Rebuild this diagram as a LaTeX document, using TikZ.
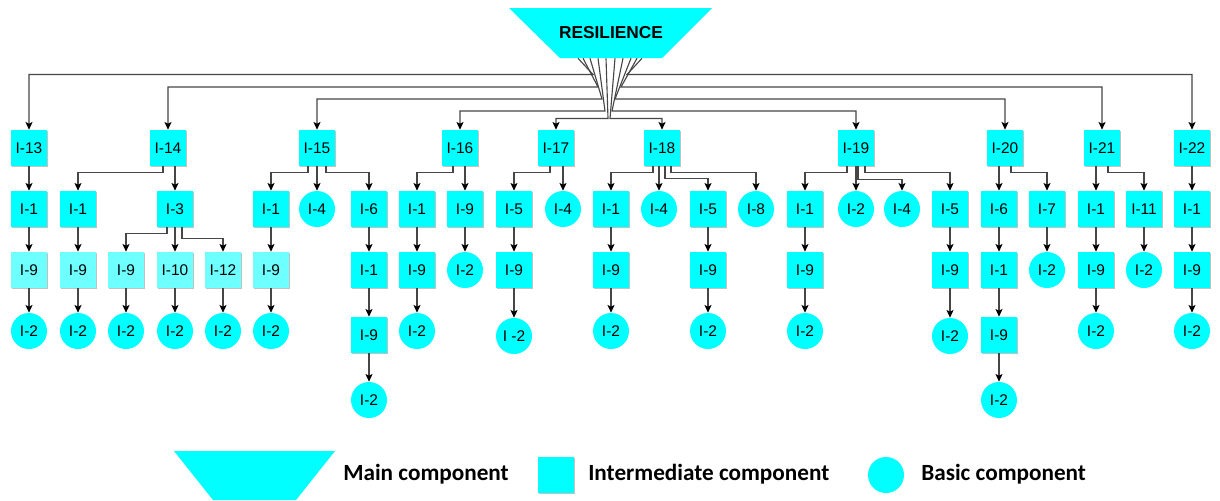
\documentclass[tikz,border=0pt]{standalone}
\usepackage{fontspec}
\setmainfont{Liberation Sans}
\newfontfamily\legendfont{Carlito}
\usetikzlibrary{arrows.meta,shadows}

\definecolor{compfill}{RGB}{0,255,255}
\definecolor{compfilllight}{RGB}{110,255,255}
\definecolor{linkgray}{RGB}{70,70,70}

\tikzset{
    inter/.style={rectangle,fill=compfill,minimum size=0.9cm,inner sep=0,
        drop shadow={shadow xshift=0.5pt,shadow yshift=-0.5pt,fill=black!40,opacity=0.6},
        font=\fontsize{11}{13}\selectfont},
    interlight/.style={inter,fill=compfilllight},
    basic/.style={circle,fill=compfill,minimum size=0.9cm,inner sep=0,
        font=\fontsize{11}{13}\selectfont},
    link/.style={draw=linkgray,line width=0.8pt,
        -{Stealth[length=5.5pt,width=5pt,inset=1.2pt,color=black]}},
    legend/.style={inner sep=0,font=\legendfont\bfseries\fontsize{16.5}{18}\selectfont}
}

\begin{document}
\begin{tikzpicture}[x=0.025cm,y=-0.025cm]
    \useasboundingbox (0,0) rectangle (1220,500);

    % main component
    \fill[compfill](509,8)--(712,8)--(662,58)--(560,58)--cycle;
    \node[minimum width=2.55cm,minimum height=1.25cm,inner sep=0,
        font=\bfseries\fontsize{12.3}{14}\selectfont](res) at (611,33){RESILIENCE};

    % first level
    \node[inter](i13) at (29,148){I-13};
    \node[inter](i14) at (168,148){I-14};
    \node[inter](i15) at (317,148){I-15};
    \node[inter](i16) at (460,148){I-16};
    \node[inter](i17) at (556,148){I-17};
    \node[inter](i18) at (662,148){I-18};
    \node[inter](i19) at (856,148){I-19};
    \node[inter](i20) at (1005,148){I-20};
    \node[inter](i21) at (1102,148){I-21};
    \node[inter](i22) at (1192,148){I-22};

    \draw[link](res.south)++(-33,0)--(593,74.5)-|(i13.north);
    \draw[link](res.south)++(-28,0)--(598,87)-|(i14.north);
    \draw[link](res.south)++(-21,0)--(602,99)-|(i15.north);
    \draw[link](res.south)++(-13,0)--(605,111)-|(i16.north);
    \draw[link](res.south)++(-5,0)--(608,118.5)-|(i17.north);
    \draw[link](res.south)++(4,0)--(610,118.5)-|(i18.north);
    \draw[link](res.south)++(12,0)--(612,111)-|(i19.north);
    \draw[link](res.south)++(20,0)--(615,99)-|(i20.north);
    \draw[link](res.south)++(26,0)--(621,87)-|(i21.north);
    \draw[link](res.south)++(31,0)--(627,74.5)-|(i22.north);

    % I-13
    \node[inter](i13a) at (29,209){I-1};
    \node[interlight](i13b) at (29,270){I-9};
    \node[basic](i13c) at (29,331){I-2};
    \draw[link](i13)--(i13a);
    \draw[link](i13a)--(i13b);
    \draw[link](i13b)--(i13c);

    % I-14
    \node[inter](i14a) at (78,209){I-1};
    \node[interlight](i14b) at (78,270){I-9};
    \node[basic](i14c) at (78,331){I-2};
    \node[inter](i14d) at (175,209){I-3};
    \node[interlight](i14e) at (126,270){I-9};
    \node[basic](i14f) at (126,331){I-2};
    \node[interlight](i14g) at (175,270){I-10};
    \node[basic](i14h) at (175,331){I-2};
    \node[interlight](i14i) at (223,270){I-12};
    \node[basic](i14j) at (223,331){I-2};
    \draw[link](i14.south)++(-5,0)--++(0,6)-|(i14a.north);
    \draw[link](i14.south-|i14d)--(i14d.north);
    \draw[link](i14a)--(i14b);
    \draw[link](i14b)--(i14c);
    \draw[link](i14d.south)++(-8,0)--++(0,6)-|(i14e.north);
    \draw[link](i14d)--(i14g);
    \draw[link](i14d.south)++(7,0)--++(0,11)-|(i14i.north);
    \draw[link](i14e)--(i14f);
    \draw[link](i14g)--(i14h);
    \draw[link](i14i)--(i14j);

    % I-15
    \node[inter](i15a) at (271,209){I-1};
    \node[interlight](i15b) at (271,270){I-9};
    \node[basic](i15c) at (271,331){I-2};
    \node[basic](i15d) at (317,209){I-4};
    \node[inter](i15e) at (369,209){I-6};
    \node[inter](i15f) at (369,270){I-1};
    \node[inter](i15g) at (369,335){I-9};
    \node[basic](i15h) at (369,400){I-2};
    \draw[link](i15.south)++(-9,0)--++(0,6)-|(i15a.north);
    \draw[link](i15)--(i15d);
    \draw[link](i15.south)++(9,0)--++(0,6)-|(i15e.north);
    \draw[link](i15a)--(i15b);
    \draw[link](i15b)--(i15c);
    \draw[link](i15e)--(i15f);
    \draw[link](i15f)--(i15g);
    \draw[link](i15g)--(i15h);

    % I-16
    \node[inter](i16a) at (417,209){I-1};
    \node[inter](i16b) at (417,270){I-9};
    \node[basic](i16c) at (417,331){I-2};
    \node[inter](i16d) at (465,209){I-9};
    \node[basic](i16e) at (465,270){I-2};
    \draw[link](i16.south)++(-7,0)--++(0,6)-|(i16a.north);
    \draw[link](i16.south-|i16d)--(i16d.north);
    \draw[link](i16a)--(i16b);
    \draw[link](i16b)--(i16c);
    \draw[link](i16d)--(i16e);

    % I-17
    \node[inter](i17a) at (514,209){I-5};
    \node[inter](i17b) at (514,270){I-9};
    \node[basic](i17c) at (514,336){I -2};
    \node[basic](i17d) at (563,209){I-4};
    \draw[link](i17.south)++(-6,0)--++(0,6)-|(i17a.north);
    \draw[link](i17.south-|i17d)--(i17d.north);
    \draw[link](i17a)--(i17b);
    \draw[link](i17b)--(i17c);

    % I-18
    \node[inter](i18a) at (611,209){I-1};
    \node[inter](i18b) at (611,270){I-9};
    \node[basic](i18c) at (611,331){I-2};
    \node[basic](i18d) at (659,209){I-4};
    \node[inter](i18e) at (708,209){I-5};
    \node[inter](i18f) at (708,270){I-9};
    \node[basic](i18g) at (708,331){I-2};
    \node[basic](i18h) at (756,209){I-8};
    \draw[link](i18.south)++(-9,0)--++(0,6)-|(i18a.north);
    \draw[link](i18.south-|i18d)--(i18d.north);
    \draw[link](i18.south)++(3,0)--++(0,12)-|(i18e.north);
    \draw[link](i18.south)++(9,0)--++(0,6)-|(i18h.north);
    \draw[link](i18a)--(i18b);
    \draw[link](i18b)--(i18c);
    \draw[link](i18e)--(i18f);
    \draw[link](i18f)--(i18g);

    % I-19
    \node[inter](i19a) at (805,209){I-1};
    \node[inter](i19b) at (805,270){I-9};
    \node[basic](i19c) at (805,331){I-2};
    \node[basic](i19d) at (856,209){I-2};
    \node[basic](i19e) at (902,209){I-4};
    \node[inter](i19f) at (950,209){I-5};
    \node[inter](i19g) at (950,270){I-9};
    \node[basic](i19h) at (950,336){I-2};
    \draw[link](i19.south)++(-9,0)--++(0,6)-|(i19a.north);
    \draw[link](i19)--(i19d);
    \draw[link](i19.south)++(2,0)--++(0,13)-|(i19e.north);
    \draw[link](i19.south)++(9,0)--++(0,6)-|(i19f.north);
    \draw[link](i19a)--(i19b);
    \draw[link](i19b)--(i19c);
    \draw[link](i19f)--(i19g);
    \draw[link](i19g)--(i19h);

    % I-20
    \node[inter](i20a) at (999,209){I-6};
    \node[inter](i20b) at (999,270){I-1};
    \node[inter](i20c) at (999,335){I-9};
    \node[basic](i20d) at (999,400){I-2};
    \node[inter](i20e) at (1047,209){I-7};
    \node[basic](i20f) at (1047,270){I-2};
    \draw[link](i20.south-|i20a)--(i20a.north);
    \draw[link](i20.south)++(6,0)--++(0,6)-|(i20e.north);
    \draw[link](i20a)--(i20b);
    \draw[link](i20b)--(i20c);
    \draw[link](i20c)--(i20d);
    \draw[link](i20e)--(i20f);

    % I-21
    \node[inter](i21a) at (1096,209){I-1};
    \node[inter](i21b) at (1096,270){I-9};
    \node[basic](i21c) at (1096,331){I-2};
    \node[inter](i21d) at (1144,209){I-11};
    \node[basic](i21e) at (1144,270){I-2};
    \draw[link](i21.south-|i21a)--(i21a.north);
    \draw[link](i21.south)++(6,0)--++(0,6)-|(i21d.north);
    \draw[link](i21a)--(i21b);
    \draw[link](i21b)--(i21c);
    \draw[link](i21d)--(i21e);

    % I-22
    \node[inter](i22a) at (1192,209){I-1};
    \node[inter](i22b) at (1192,270){I-9};
    \node[basic](i22c) at (1192,331){I-2};
    \draw[link](i22)--(i22a);
    \draw[link](i22a)--(i22b);
    \draw[link](i22b)--(i22c);

    % legend
    \fill[compfill](174,451)--(335,451)--(296,500)--(213,500)--cycle;
    \node[legend,anchor=west](keymain) at (343,474){Main component};
    \node[inter](keyinter) at (556,475){};
    \node[legend,anchor=west](keyintertext) at (588,474){Intermediate component};
    \node[basic](keybasic) at (886,475){};
    \node[legend,anchor=west](keybasictext) at (921,474){Basic component};
\end{tikzpicture}
\end{document}
